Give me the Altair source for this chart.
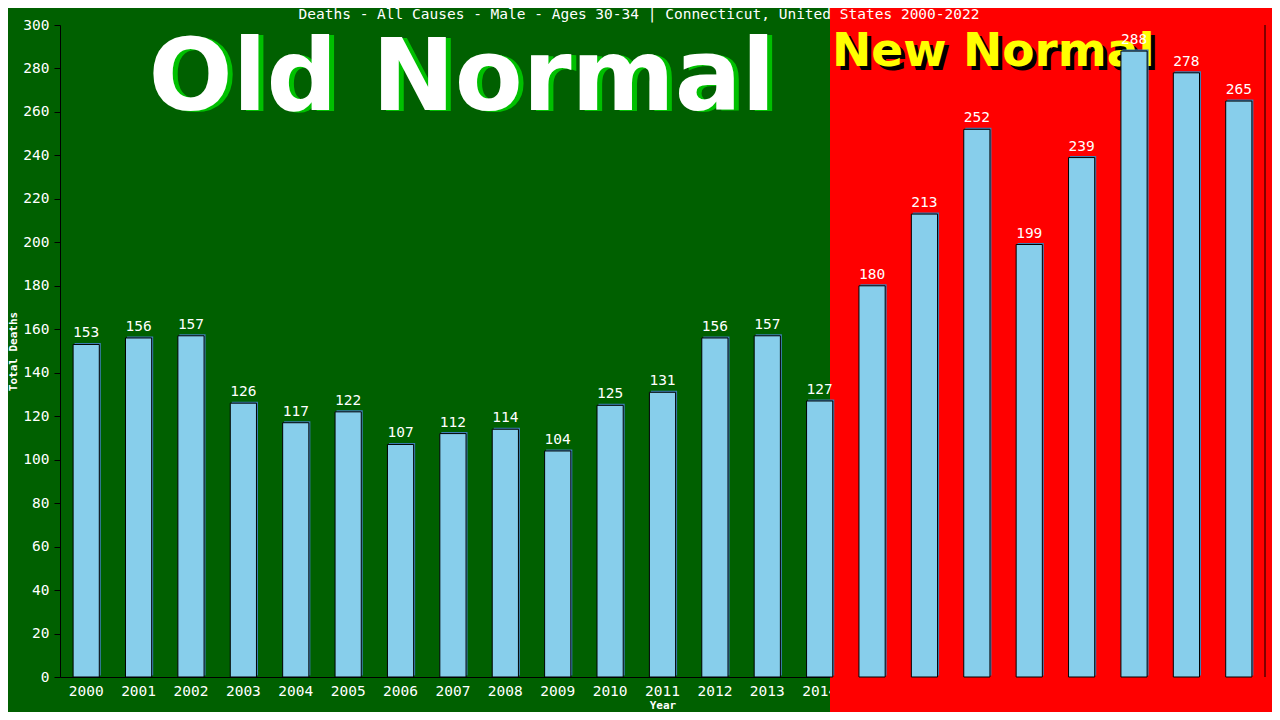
import altair as alt
import pandas as pd

years = [str(y) for y in range(2000, 2023)]
deaths = [153, 156, 157, 126, 117, 122, 107, 112, 114, 104, 125, 131, 156, 157,
          127, 180, 213, 252, 199, 239, 288, 278, 265]
title_text = ["Deaths - All Causes - Male - Ages 30-34 | Connecticut, United States 2000-2022"]
old_label = ["Old Normal"]
new_label = ["New Normal"]

W, H = 1205, 652
MONO = "DejaVu Sans Mono"
BIG = "DejaVu Sans"

df = pd.DataFrame({"Year": years, "Deaths": deaths})
one = pd.DataFrame({"a": [0]})

xenc = alt.X("Year:O", sort=years,
             scale=alt.Scale(paddingInner=0.5, paddingOuter=0.25),
             axis=alt.Axis(title="Year", labelAngle=0, ticks=False, domainColor="black",
                           labelColor="white", labelFont=MONO, labelFontSize=14.5,
                           labelPadding=7, titleColor="white", titleFont=MONO,
                           titleFontSize=11, titleFontWeight="bold", titlePadding=2))
yenc = alt.Y("Deaths:Q", scale=alt.Scale(domain=[0, 300], nice=False),
             axis=alt.Axis(title="Total Deaths", values=list(range(0, 301, 20)), grid=False,
                           domainColor="black", tickColor="black", tickSize=6,
                           labelColor="white", labelFont=MONO, labelFontSize=14.5,
                           labelPadding=5, titleColor="white", titleFont=MONO,
                           titleFontSize=11, titleFontWeight="bold", titlePadding=4))

red = alt.Chart(one).mark_rect(color="#ff0000").encode(
    x=alt.value(770), x2=alt.value(1230), y=alt.value(-30), y2=alt.value(700))

title = alt.Chart(pd.DataFrame({"t": title_text})).mark_text(
    font=MONO, fontSize=14.5, color="white", align="center", baseline="middle"
).encode(x=alt.value(579), y=alt.value(-10), text="t:N")

old_df = pd.DataFrame({"t": old_label})
old_shadow = alt.Chart(old_df).mark_text(
    font=BIG, fontSize=99, fontWeight="bold", color="#00c000", align="center",
    baseline="alphabetic", dx=5, dy=1).encode(x=alt.value(402), y=alt.value(85), text="t:N")
old_text = alt.Chart(old_df).mark_text(
    font=BIG, fontSize=99, fontWeight="bold", color="white", align="center",
    baseline="alphabetic").encode(x=alt.value(402), y=alt.value(85), text="t:N")

new_df = pd.DataFrame({"t": new_label})
new_shadow = alt.Chart(new_df).mark_text(
    font=BIG, fontSize=47, fontWeight="bold", color="black", align="left",
    baseline="alphabetic", dx=4, dy=4).encode(x=alt.value(772), y=alt.value(41), text="t:N")
new_text = alt.Chart(new_df).mark_text(
    font=BIG, fontSize=47, fontWeight="bold", color="#ffff00", align="left",
    baseline="alphabetic").encode(x=alt.value(772), y=alt.value(41), text="t:N")

base = alt.Chart(df)
shadow_bars = base.mark_bar(color="#3d7fb5", xOffset=1.5, yOffset=-1.5).encode(x=xenc, y=yenc)
bars = base.mark_bar(color="#87ceeb", stroke="black", strokeWidth=1).encode(x=xenc, y=yenc)
labels = base.mark_text(font=MONO, fontSize=14.5, color="white", baseline="alphabetic",
                        dy=-7).encode(x=xenc, y=yenc, text="Deaths:Q")
right_rule = alt.Chart(one).mark_rule(color="black").encode(
    x=alt.value(W), y=alt.value(0), y2=alt.value(H))

chart = alt.layer(red, title, old_shadow, old_text, new_shadow, new_text,
                  shadow_bars, bars, labels, right_rule).properties(
    width=W, height=H,
    autosize=alt.AutoSizeParams(type="none"),
    padding={"left": 52, "top": 17, "right": 7, "bottom": 35},
    background="#006000",
).configure_view(strokeWidth=0)

chart.save("out.html", embed_options={"renderer": "svg", "actions": False})
